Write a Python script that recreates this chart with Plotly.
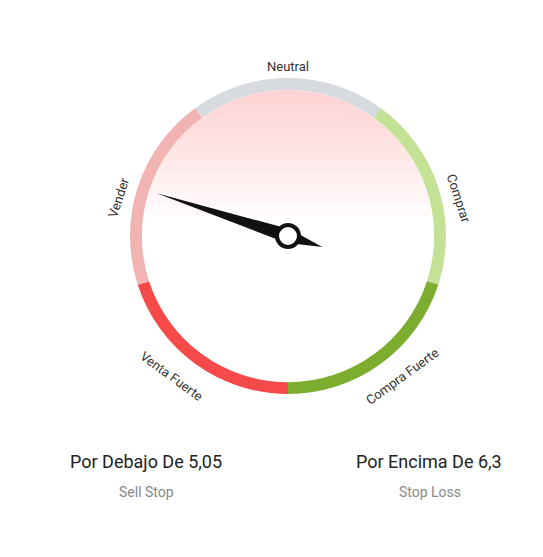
import math
import plotly.graph_objects as go

# segmentos del indicador (desde abajo, sentido horario)
segmentos = ['Venta Fuerte', 'Vender', 'Neutral', 'Comprar', 'Compra Fuerte']
pesos = [1, 1, 1, 1, 1]
colores = ['#f64a4a', '#f2b3b3', '#d7dadf', '#c3e295', '#7cad2f']
aguja_angulo = 162  # grados, 0 = derecha

W, H = 543, 557
OFF = 8  # margen del body de la página
cx, cy, r = 288, 557 - 236, 158

fig = go.Figure()
fig.add_trace(go.Pie(
    values=pesos, labels=segmentos, marker=dict(colors=colores, line=dict(width=0)),
    hole=0.925, sort=False, direction='clockwise', rotation=180,
    textinfo='none', hoverinfo='label', showlegend=False,
    domain=dict(x=[(cx - OFF - r) / W, (cx - OFF + r) / W],
                y=[(cy + OFF - r) / H, (cy + OFF + r) / H]),
))

# degradado vertical suave dentro del círculo (parte superior)
shapes = []
ri = 146
for k in range(12):
    yline = cy + 20 + k * 11  # por encima de esta línea
    h = yline - cy
    if h >= ri:
        break
    a0 = math.asin(h / ri)
    pts = [(cx + ri * math.cos(a), cy + ri * math.sin(a))
           for a in [a0 + (math.pi - 2 * a0) * j / 30 for j in range(31)]]
    path = 'M ' + ' L '.join(f'{x:.1f},{y:.1f}' for x, y in pts) + ' Z'
    shapes.append(dict(type='path', xref='x', yref='y', line=dict(width=0),
                       fillcolor='rgba(240,140,140,0.03)', path=path, layer='below'))

# aguja
t = math.radians(aguja_angulo)
tip = (cx + 138 * math.cos(t), cy + 138 * math.sin(t))
tail = (cx - 36 * math.cos(t), cy - 36 * math.sin(t))
n = (-math.sin(t), math.cos(t))
w = 7
p1 = (cx + n[0] * w, cy + n[1] * w)
p2 = (cx - n[0] * w, cy - n[1] * w)
shapes.append(dict(type='path', xref='x', yref='y', fillcolor='#111', line=dict(width=0),
                   path=f'M {tip[0]},{tip[1]} L {p1[0]},{p1[1]} L {tail[0]},{tail[1]} L {p2[0]},{p2[1]} Z'))
shapes.append(dict(type='circle', xref='x', yref='y', x0=cx - 11, x1=cx + 11, y0=cy - 11, y1=cy + 11,
                   fillcolor='white', line=dict(color='#111', width=4)))

ann = [
    dict(x=5, y=557 - 28, text='Gas Natural Resumen de análisis técnico', xanchor='left',
         font=dict(size=22, color='#333')),
    dict(x=288, y=557 - 66, text='Neutral', textangle=0, font=dict(size=13, color='#333')),
    dict(x=118, y=557 - 198, text='Vender', textangle=-72, font=dict(size=13, color='#333')),
    dict(x=459, y=557 - 198, text='Comprar', textangle=72, font=dict(size=13, color='#333')),
    dict(x=172, y=557 - 376, text='Venta Fuerte', textangle=36, font=dict(size=13, color='#333')),
    dict(x=402, y=557 - 376, text='Compra Fuerte', textangle=-36, font=dict(size=13, color='#333')),
    dict(x=146, y=557 - 461, text='Por Debajo De 5,05', font=dict(size=18, color='#222')),
    dict(x=146, y=557 - 492, text='Sell Stop', font=dict(size=14, color='#888')),
    dict(x=429, y=557 - 461, text='Por Encima De 6,3', font=dict(size=18, color='#222')),
    dict(x=430, y=557 - 492, text='Stop Loss', font=dict(size=14, color='#888')),
]
for a in ann:
    a.update(xref='x', yref='y', showarrow=False)

fig.update_layout(
    width=W, height=H, margin=dict(l=0, r=0, t=0, b=0),
    paper_bgcolor='white', plot_bgcolor='rgba(0,0,0,0)',
    font=dict(family='Roboto'),
    xaxis=dict(range=[OFF, W + OFF], visible=False, fixedrange=True),
    yaxis=dict(range=[-OFF, H - OFF], visible=False, fixedrange=True),
    shapes=shapes, annotations=ann,
)
fig.write_html('out.html')
